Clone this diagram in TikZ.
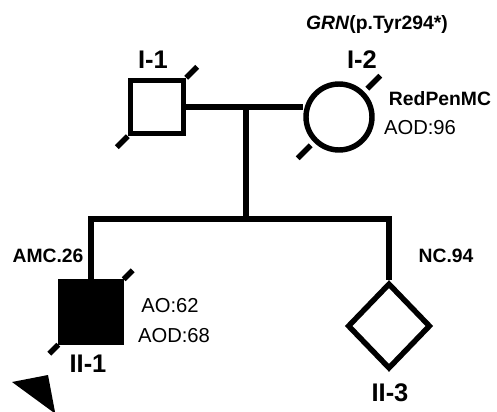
\documentclass[tikz,border=0pt]{standalone}
\usepackage{fontspec}
\setmainfont{Liberation Sans}
\usepackage{tikz}
\usetikzlibrary{shapes.geometric}

\tikzset{
    male/.style={draw, rectangle, minimum size=1.06cm, inner sep=0pt},
    female/.style={draw, circle, minimum size=1.32cm, inner sep=0pt},
    unknownsex/.style={draw, diamond, minimum width=1.66cm, minimum height=1.72cm, inner sep=0pt},
    idlabel/.style={font=\fontsize{14.5}{16}\selectfont\bfseries},
    codelabel/.style={font=\fontsize{11}{13}\selectfont\bfseries},
    agelabel/.style={font=\fontsize{11.5}{13}\selectfont}
}

\begin{document}
\begin{tikzpicture}[x=0.02cm, y=-0.02cm, line width=3.1pt]
    \useasboundingbox (0,0) rectangle (497,412);

    % Generation I
    \node[male] (i1) at (157,107) {};
    \node[female] (i2) at (339,117) {};
    \node[idlabel] (lab-i1) at (153,60) {I-1};
    \node[idlabel] (lab-i2) at (362,60) {I-2};
    \node[codelabel] (gene) at (377,25) {\textit{GRN}(p.Tyr294*)};
    \node[codelabel] (code-i2) at (440,99) {RedPenMC};
    \node[agelabel] (aod-i2) at (420,128) {AOD:96};

    % deceased marks
    \draw (i1.north east) -- ++(11,-11);
    \draw (i1.south west) -- ++(-11,11);
    \draw ([shift={(3,-3)}]i2.north east) -- ++(13,-13);
    \draw ([shift={(-3,3)}]i2.south west) -- ++(-13,13);

    % Marriage and descent
    \coordinate (mid) at (246,107);
    \coordinate (sib) at (246,219);
    \draw (i1.east) -- (i2.west |- i1.east);
    \draw (mid) -- (sib);

    % Generation II
    \node[male, fill=black, minimum size=1.2cm] (ii1) at (91,312) {};
    \node[unknownsex] (ii3) at (389,326) {};
    \draw (ii1.north) -- (ii1.north |- sib) -- (ii3.north |- sib) -- (ii3.north);
    \draw (ii1.north east) -- ++(9,-9);
    \draw (ii1.south west) -- ++(-9,9);

    \node[idlabel] (lab-ii1) at (88,364) {II-1};
    \node[idlabel] (lab-ii3) at (390,393) {II-3};
    \node[codelabel] (code-ii1) at (48,256) {AMC.26};
    \node[codelabel] (code-ii3) at (446,256) {NC.94};
    \node[agelabel] (ao-ii1) at (170,306) {AO:62};
    \node[agelabel] (aod-ii1) at (174,336) {AOD:68};

    % proband
    \fill (12,382) -- (48,375) -- (55,412) -- (53,412) -- cycle;
\end{tikzpicture}
\end{document}
